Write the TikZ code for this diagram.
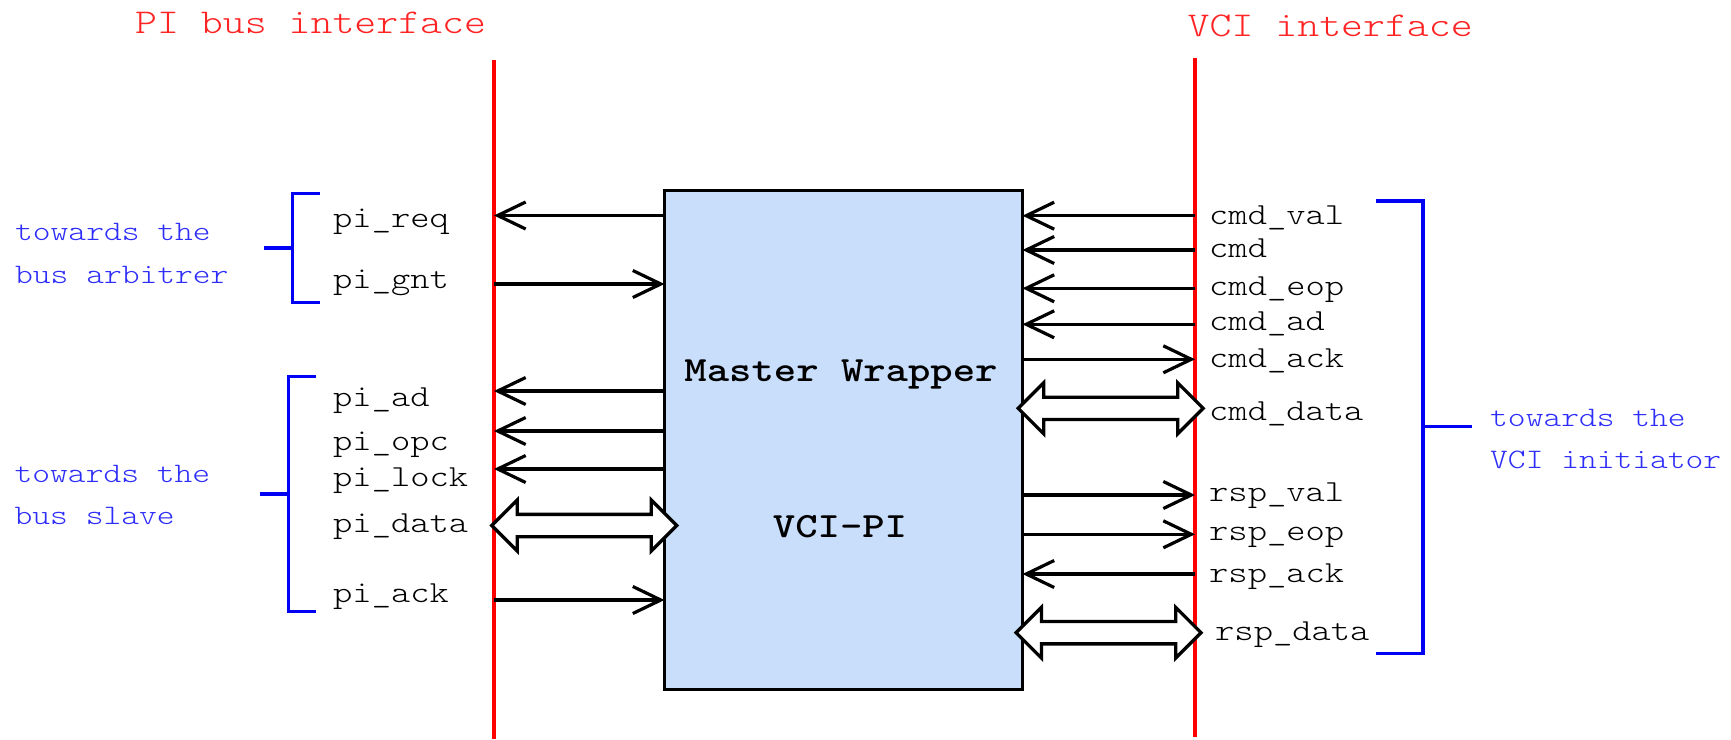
\documentclass[tikz,border=0pt]{standalone}
\usepackage{fontspec}
\usepackage{graphicx}
\usetikzlibrary{arrows.meta,positioning,shapes.arrows}

\definecolor{wrapfill}{RGB}{201,222,251}
\definecolor{titlered}{RGB}{255,35,35}
\definecolor{braceblue}{RGB}{0,0,245}
\definecolor{sideblue}{RGB}{45,45,250}

% courier-like width for the mono font
\newcommand\wtt[1]{\scalebox{1.2}[1]{#1}}

\tikzset{
  sig/.style={line width=3.2pt,-{Straight Barb[length=28pt,width=27pt]}},
  busline/.style={red,line width=3.5pt},
  brace/.style={braceblue,line width=3.5pt},
  busarrow/.style={double arrow,draw,fill=white,line width=3.3pt,inner xsep=0pt,
    inner ysep=9.5pt,double arrow head extend=14.3pt,minimum height=185pt},
  siglabel/.style={anchor=base west,inner sep=0pt,font=\fontsize{30.6}{37}\selectfont\ttfamily\fontseries{l}\selectfont},
  sidelabel/.style={anchor=base west,inner sep=0pt,text=sideblue,font=\fontsize{28.2}{34}\selectfont\ttfamily\fontseries{l}\selectfont},
  ifacetitle/.style={anchor=base west,inner sep=0pt,text=titlered,font=\fontsize{34.8}{42}\selectfont\ttfamily\fontseries{l}\selectfont},
  wraptext/.style={anchor=base,inner sep=0pt,font=\fontsize{35.5}{42}\selectfont\ttfamily\bfseries},
}

\begin{document}
\begin{tikzpicture}[x=1pt,y=-1pt]
\useasboundingbox (0,0) rectangle (1731,739);

% interfaces
\node[ifacetitle] (pititle) at (135,33.3) {\wtt{PI bus interface}};
\node[ifacetitle] (vcititle) at (1187.5,36.7) {\wtt{VCI interface}};
\draw[busline] (494,60) -- (494,739);
\draw[busline] (1195,58) -- (1195,737);

% wrapper
\node[draw,line width=3pt,fill=wrapfill,minimum width=358pt,minimum height=499pt,
  inner sep=0pt,outer sep=0pt] (wrap) at (843.5,439.5) {};
\node[wraptext] (wname) at (841,381) {\wtt{Master Wrapper}};
\node[wraptext] (wkind) at (840,537) {\wtt{VCI-PI}};

% PI side
\coordinate (req) at (494,215.5);
\coordinate (gnt) at (494,284);
\coordinate (ad) at (494,391);
\coordinate (opc) at (494,431);
\coordinate (lock) at (494,469);
\coordinate (ack) at (494,600);
\draw[sig] (req -| wrap.west) -- (req);
\draw[sig] (gnt) -- (gnt -| wrap.west);
\draw[sig] (ad -| wrap.west) -- (ad);
\draw[sig] (opc -| wrap.west) -- (opc);
\draw[sig] (lock -| wrap.west) -- (lock);
\draw[sig] (ack) -- (ack -| wrap.west);
\node[busarrow] (pidata) at (584.2,525.5) {};

\node[siglabel] (lreq) at (333,227) {\wtt{pi\_req}};
\node[siglabel] (lgnt) at (333,288) {\wtt{pi\_gnt}};
\node[siglabel] (lad) at (333,406) {\wtt{pi\_ad}};
\node[siglabel] (lopc) at (333,450) {\wtt{pi\_opc}};
\node[siglabel] (llock) at (333,486.7) {\wtt{pi\_lock}};
\node[siglabel] (ldata) at (333,532.7) {\wtt{pi\_data}};
\node[siglabel] (lack) at (333,602.7) {\wtt{pi\_ack}};

% VCI side
\coordinate (cval) at (1195,215.7);
\coordinate (ccmd) at (1195,250);
\coordinate (ceop) at (1195,288.3);
\coordinate (cad) at (1195,324.3);
\coordinate (cack) at (1195,359.3);
\coordinate (rval) at (1195,495);
\coordinate (reop) at (1195,534.3);
\coordinate (rack) at (1195,574);
\draw[sig] (cval) -- (cval -| wrap.east);
\draw[sig] (ccmd) -- (ccmd -| wrap.east);
\draw[sig] (ceop) -- (ceop -| wrap.east);
\draw[sig] (cad) -- (cad -| wrap.east);
\draw[sig] (cack -| wrap.east) -- (cack);
\draw[sig] (rval -| wrap.east) -- (rval);
\draw[sig] (reop -| wrap.east) -- (reop);
\draw[sig] (rack) -- (rack -| wrap.east);
\node[busarrow] (cmddata) at (1110.7,408.3) {};
\node[busarrow] (rspdata) at (1108.6,632.7) {};

\node[siglabel] (lcval) at (1209,224) {\wtt{cmd\_val}};
\node[siglabel] (lccmd) at (1209,257.3) {\wtt{cmd}};
\node[siglabel] (lceop) at (1209,295) {\wtt{cmd\_eop}};
\node[siglabel] (lcad) at (1209,330) {\wtt{cmd\_ad}};
\node[siglabel] (lcack) at (1209,367.3) {\wtt{cmd\_ack}};
\node[siglabel] (lcdata) at (1209,420.7) {\wtt{cmd\_data}};
\node[siglabel] (lrval) at (1209,501.7) {\wtt{rsp\_val}};
\node[siglabel] (lreop) at (1209,540.7) {\wtt{rsp\_eop}};
\node[siglabel] (lrack) at (1209,582.3) {\wtt{rsp\_ack}};
\node[siglabel] (lrdata) at (1215,640.7) {\wtt{rsp\_data}};

% groups
\draw[brace] (319.6,193.3) -| (292.4,302.7) -- (319.6,302.7);
\draw[brace] (264.3,248) -- (292.4,248);
\draw[brace] (316,376.7) -| (288.4,611.7) -- (316,611.7);
\draw[brace] (260.3,494) -- (288.4,494);
\draw[brace] (1375.7,201) -| (1423,653.3) -- (1375.7,653.3);
\draw[brace] (1423,426.7) -- (1472,426.7);

\node[sidelabel] (arb1) at (15,240.7) {\wtt{towards the}};
\node[sidelabel] (arb2) at (15,283.3) {\wtt{bus arbitrer}};
\node[sidelabel] (slv1) at (14.5,482.7) {\wtt{towards the}};
\node[sidelabel] (slv2) at (14.5,524) {\wtt{bus slave}};
\node[sidelabel] (ini1) at (1490,426.7) {\wtt{towards the}};
\node[sidelabel] (ini2) at (1490,468.5) {\wtt{VCI initiator}};
\end{tikzpicture}
\end{document}
